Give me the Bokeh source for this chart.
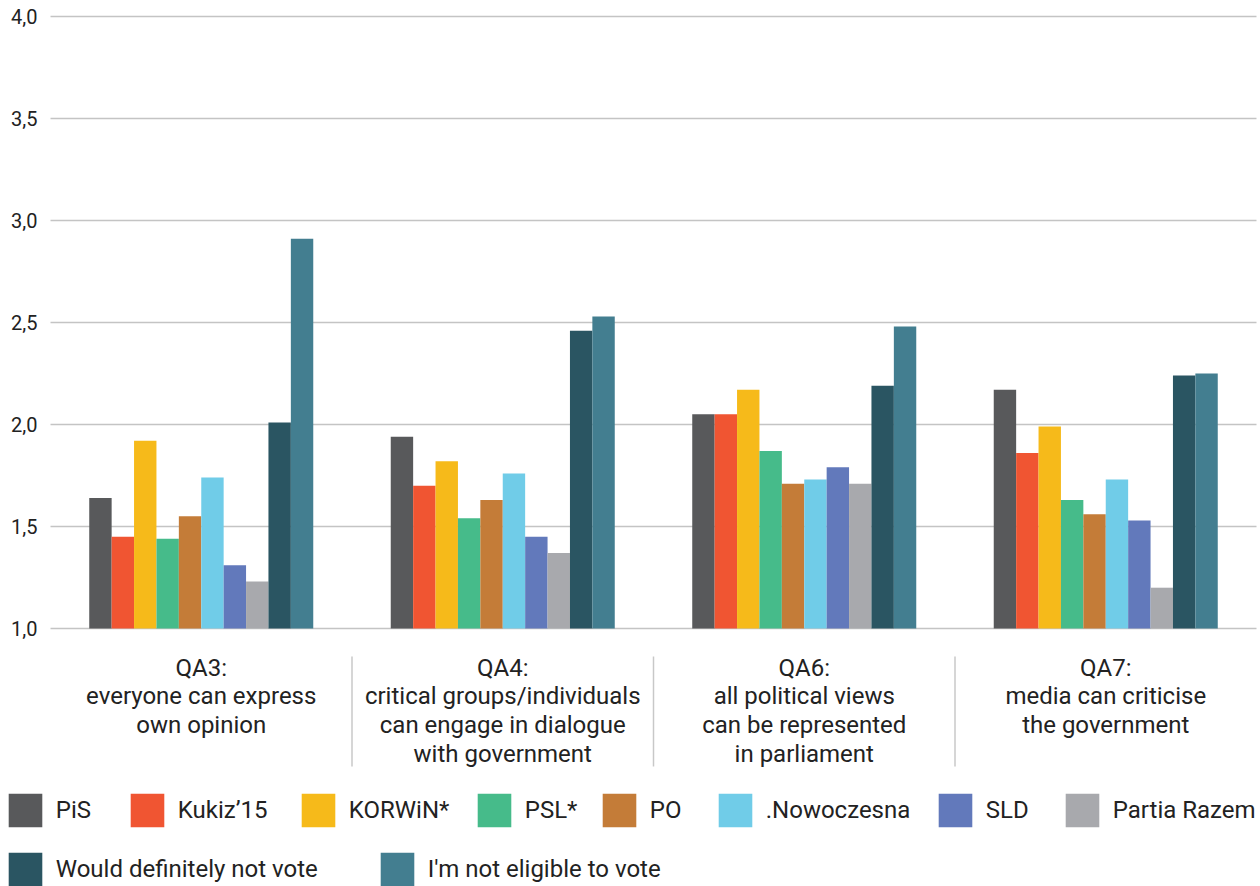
from bokeh.plotting import figure
from bokeh.models import ColumnDataSource, Range1d, FixedTicker, Grid, Legend, LegendItem
from bokeh.transform import dodge
from bokeh.core.properties import value
from bokeh.embed import file_html
from bokeh.resources import INLINE

# ---------------- data ----------------
questions = [
    "QA3:\neveryone can express\nown opinion",
    "QA4:\ncritical groups/individuals\ncan engage in dialogue\nwith government",
    "QA6:\nall political views\ncan be represented\nin parliament",
    "QA7:\nmedia can criticise\nthe government",
]
parties = ["PiS", "Kukiz\u201915", "KORWiN*", "PSL*", "PO", ".Nowoczesna", "SLD",
           "Partia Razem", "Would definitely not vote", "I'm not eligible to vote"]
colors = ["#58595b", "#f05532", "#f6ba1a", "#46bb8a", "#c47c38", "#70cce8",
          "#6279bb", "#a8a9ad", "#2a5562", "#437e90"]

pis = [1.64, 1.94, 2.05, 2.17]
kukiz = [1.45, 1.70, 2.05, 1.86]
korwin = [1.92, 1.82, 2.17, 1.99]
psl = [1.44, 1.54, 1.87, 1.63]
po = [1.55, 1.63, 1.71, 1.56]
nowoczesna = [1.74, 1.76, 1.73, 1.73]
sld = [1.31, 1.45, 1.79, 1.53]
razem = [1.23, 1.37, 1.71, 1.20]
not_vote = [2.01, 2.46, 2.19, 2.24]
not_eligible = [2.91, 2.53, 2.48, 2.25]

y_ticks = [1.0, 1.5, 2.0, 2.5, 3.0, 3.5, 4.0]
y_tick_labels = ["1,0", "1,5", "2,0", "2,5", "3,0", "3,5", "4,0"]

series = [pis, kukiz, korwin, psl, po, nowoczesna, sld, razem, not_vote, not_eligible]
keys = ["s%d" % i for i in range(len(series))]

# ---------------- layout (pixels) ----------------
W, H = 1260, 886
PLOT_LEFT = 50.0         # where the grid starts
PLOT_RIGHT = 1256.0
PX_PER_UNIT = 204.0
BASE_PX = 628.0          # screen y of value 1.0
GROUP_PX = 301.5
y_top = 1.0 + BASE_PX / PX_PER_UNIT
y_bot = 1.0 - (H - BASE_PX) / PX_PER_UNIT
x_start = -PLOT_LEFT / GROUP_PX
x_end = (W - PLOT_LEFT) / GROUP_PX
grid_end = (PLOT_RIGHT - PLOT_LEFT) / GROUP_PX

legend_row1_x = [8, 130, 301, 477, 602, 718, 938, 1065]
legend_row2_x = [8, 380]
legend_row1_bottom = 827
legend_row2_bottom = 886
SQ = 34.0
GLYPH = SQ / 0.8
INSET = (GLYPH - SQ) / 2

def px_below_base(px):
    return 1.0 - px / PX_PER_UNIT

n = len(series)
bw = 0.0743

data = {"x": [i + 0.5 for i in range(len(questions))], "label": questions}
for k, s in zip(keys, series):
    data[k] = s
src = ColumnDataSource(data)

p = figure(width=W, height=H, output_backend="svg", toolbar_location=None,
           x_range=Range1d(x_start, x_end), y_range=Range1d(y_bot, y_top),
           x_axis_location=None, y_axis_location=None,
           min_border_left=0, min_border_right=0, min_border_top=0, min_border_bottom=0)
p.outline_line_color = None
p.background_fill_color = "white"
p.border_fill_color = "white"
p.grid.visible = False

grid = Grid(dimension=1, ticker=FixedTicker(ticks=y_ticks), cross_bounds=(0.0, grid_end),
            grid_line_color="#c4c4c4", grid_line_width=1.6)
p.add_layout(grid)

# y tick labels
tick_src = ColumnDataSource({"y": y_ticks, "t": y_tick_labels})
p.text(x=0.0, y="y", text="t", source=tick_src, text_align="right", text_baseline="middle",
       x_offset=-13, text_font=value("Roboto"), text_font_size="20px", text_color="#222222")

renderers = []
for i, (k, c) in enumerate(zip(keys, colors)):
    r = p.vbar(x=dodge("x", (i - (n - 1) / 2) * bw, range=p.x_range), top=k, bottom=1.0,
               width=bw, source=src, fill_color=c, line_color=None)
    renderers.append(r)

# category labels
p.text(x="x", y=1.0, text="label", source=src, text_align="center", text_baseline="top",
       text_font=value("Roboto"), text_font_size="24px", text_color="#222222",
       text_line_height=1.03, y_offset=25)

# group dividers
bounds = [float(i) for i in range(1, len(questions))]
p.segment(x0=bounds, x1=bounds, y0=[px_below_base(28)] * len(bounds),
          y1=[px_below_base(138)] * len(bounds), line_color="#c8c8c8", line_width=1.5)

def add_legend_item(i, sq_left, sq_bottom):
    lg = Legend(items=[LegendItem(label=parties[i], renderers=[renderers[i]])],
                location=(sq_left - INSET, H - sq_bottom - INSET),
                orientation="horizontal", glyph_width=int(round(GLYPH)), glyph_height=int(round(GLYPH)),
                label_standoff=10, spacing=0, padding=0, margin=0,
                label_text_font="Roboto", label_text_font_size="24px",
                label_text_color="#222222", border_line_color=None,
                background_fill_alpha=0, label_height=int(round(GLYPH)))
    p.add_layout(lg)

for j, xl in enumerate(legend_row1_x):
    add_legend_item(j, xl, legend_row1_bottom)
for j, xl in enumerate(legend_row2_x):
    add_legend_item(8 + j, xl, legend_row2_bottom)

open("out.html", "w").write(file_html(p, INLINE))
